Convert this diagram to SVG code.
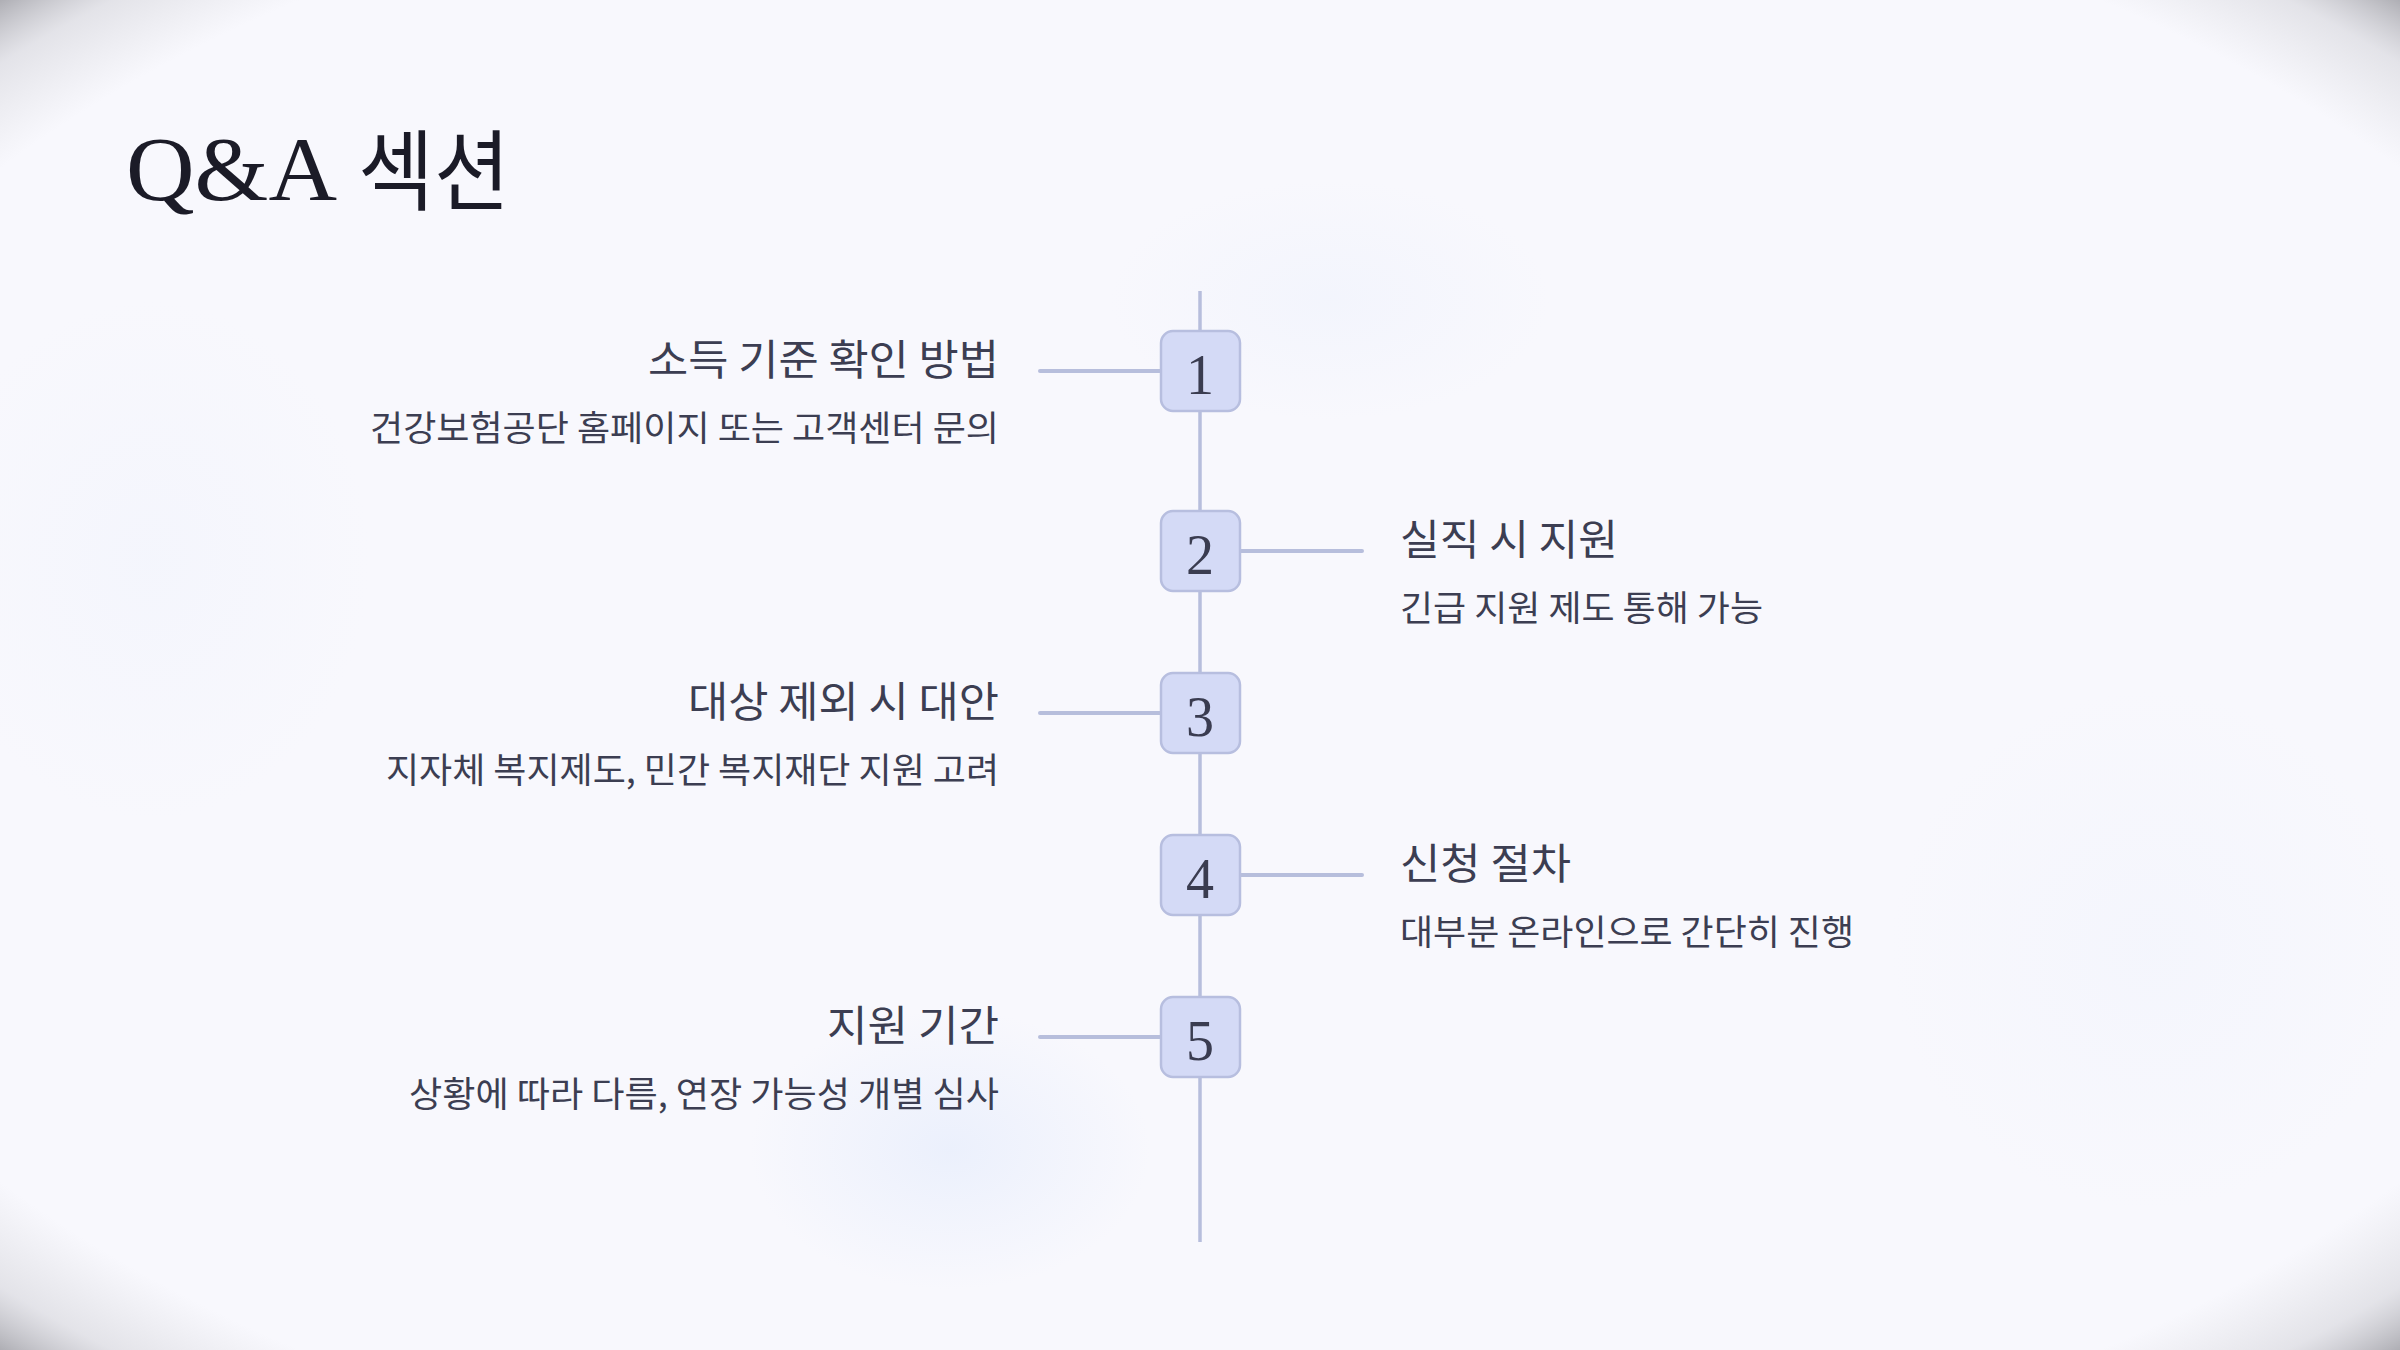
<svg xmlns="http://www.w3.org/2000/svg" width="2400" height="1350" viewBox="0 0 2400 1350">
<defs>
<radialGradient id="vig" cx="50%" cy="50%" r="71%">
<stop offset="0.88" stop-color="#c8c8cc" stop-opacity="0"/>
<stop offset="0.95" stop-color="#c4c4ca" stop-opacity="0.4"/>
<stop offset="1" stop-color="#a4a4aa" stop-opacity="0.95"/>
</radialGradient>
<radialGradient id="blob" cx="50%" cy="50%" r="50%">
<stop offset="0" stop-color="#e8eefc" stop-opacity="0.8"/>
<stop offset="1" stop-color="#e8eefc" stop-opacity="0"/>
</radialGradient>
<style>
.t{font-family:'Noto Sans CJK KR','Noto Sans',sans-serif;font-size:42px;fill:#3c3e52}
.s{font-family:'Noto Sans CJK KR','Noto Sans',sans-serif;font-size:35px;fill:#3c3e52}
.l{text-anchor:end}
.box{fill:#d4daf6;stroke:#b7bedf;stroke-width:2.5}
.num{font-family:'Liberation Serif','DejaVu Serif',serif;font-size:56px;fill:#3a3c50;text-anchor:middle}
.ln{stroke:#b7bedc;stroke-width:4;stroke-linecap:round;fill:none}
</style>
</defs>
<rect width="2400" height="1350" fill="#f8f8fd"/>
<ellipse cx="950" cy="1150" rx="200" ry="140" fill="url(#blob)"/>
<ellipse cx="1330" cy="300" rx="220" ry="120" fill="url(#blob)" opacity="0.4"/>
<ellipse cx="150" cy="560" rx="220" ry="260" fill="url(#blob)" opacity="0.3"/>
<ellipse cx="2150" cy="950" rx="260" ry="260" fill="url(#blob)" opacity="0.3"/>
<rect width="2400" height="1350" fill="url(#vig)"/>
<text x="126" y="200" font-family="'Liberation Serif','DejaVu Serif',serif" font-size="92" fill="#1b1b27" textLength="211" lengthAdjust="spacingAndGlyphs">Q&amp;A</text>
<text x="358" y="203" font-family="'Noto Sans CJK KR',sans-serif" font-size="88" fill="#1b1b27" textLength="152" lengthAdjust="spacingAndGlyphs">섹션</text>
<g id="connectors">
<line class="ln" x1="1200" y1="291" x2="1200" y2="1242" style="stroke-width:3.5;stroke-linecap:butt"/>
<line class="ln" x1="1040" y1="371" x2="1161" y2="371"/>
<line class="ln" x1="1240" y1="551" x2="1362" y2="551"/>
<line class="ln" x1="1040" y1="713" x2="1161" y2="713"/>
<line class="ln" x1="1240" y1="875" x2="1362" y2="875"/>
<line class="ln" x1="1040" y1="1037" x2="1161" y2="1037"/>
</g>
<g id="node1">
<rect class="box" x="1161" y="331" width="79" height="80" rx="12"/>
<text class="num" x="1200" y="394">1</text>
<text class="t l" x="999" y="375" textLength="351" lengthAdjust="spacingAndGlyphs">소득 기준 확인 방법</text>
<text class="s l" x="999" y="441" textLength="629" lengthAdjust="spacingAndGlyphs">건강보험공단 홈페이지 또는 고객센터 문의</text>
</g>
<g id="node2">
<rect class="box" x="1161" y="511" width="79" height="80" rx="12"/>
<text class="num" x="1200" y="574">2</text>
<text class="t" x="1400" y="555" textLength="218" lengthAdjust="spacingAndGlyphs">실직 시 지원</text>
<text class="s" x="1400" y="621" textLength="363" lengthAdjust="spacingAndGlyphs">긴급 지원 제도 통해 가능</text>
</g>
<g id="node3">
<rect class="box" x="1161" y="673" width="79" height="80" rx="12"/>
<text class="num" x="1200" y="736">3</text>
<text class="t l" x="999" y="717" textLength="311" lengthAdjust="spacingAndGlyphs">대상 제외 시 대안</text>
<text class="s l" x="999" y="783" textLength="613" lengthAdjust="spacingAndGlyphs">지자체 복지제도, 민간 복지재단 지원 고려</text>
</g>
<g id="node4">
<rect class="box" x="1161" y="835" width="79" height="80" rx="12"/>
<text class="num" x="1200" y="898">4</text>
<text class="t" x="1400" y="879" textLength="171" lengthAdjust="spacingAndGlyphs">신청 절차</text>
<text class="s" x="1400" y="945" textLength="454" lengthAdjust="spacingAndGlyphs">대부분 온라인으로 간단히 진행</text>
</g>
<g id="node5">
<rect class="box" x="1161" y="997" width="79" height="80" rx="12"/>
<text class="num" x="1200" y="1060">5</text>
<text class="t l" x="999" y="1041" textLength="172" lengthAdjust="spacingAndGlyphs">지원 기간</text>
<text class="s l" x="999" y="1107" textLength="590" lengthAdjust="spacingAndGlyphs">상황에 따라 다름, 연장 가능성 개별 심사</text>
</g>
</svg>
